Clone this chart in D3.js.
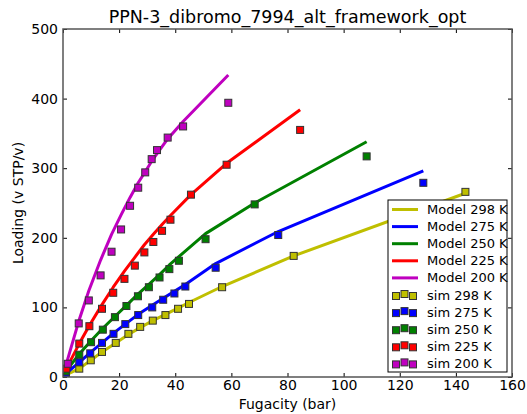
<!DOCTYPE html>
<html>
<head>
<meta charset="utf-8">
<script src="https://cdn.jsdelivr.net/npm/d3@7"></script>
<style>
  body { margin: 0; background: #fff; }
  text { font-family: "DejaVu Sans", sans-serif; fill: #000; }
</style>
</head>
<body>
<div id="chart"></div>
<script>
/** Data */
const temps = ["298", "275", "250", "225", "200"];
const colors = ["#bfbf00", "#0000ff", "#008000", "#ff0000", "#bf00bf"];

const fug298 = [1.0, 5.8, 9.9, 13.9, 18.8, 23.3, 27.5, 32.0, 36.5, 41.0, 44.9, 56.7, 82.2, 143.4];
const sim298 = [3, 12, 24, 36, 49, 62, 72, 81, 89, 98, 105, 129, 174, 266];
const model298 = [3, 12, 24, 36, 49, 61, 71, 81, 90, 99, 107, 130, 174, 264];

const fug275 = [1.0, 5.8, 9.7, 13.9, 18.0, 22.2, 26.8, 31.8, 35.7, 39.7, 43.6, 54.4, 76.7, 128.4];
const sim275 = [5, 21, 34, 49, 62, 76, 89, 100, 111, 120, 130, 157, 204, 279];
const model275 = [5, 21, 35, 49, 63, 76, 90, 103, 113, 123, 133, 163, 209, 296];

const fug250 = [1.0, 5.8, 10.0, 14.2, 18.5, 22.6, 26.7, 30.6, 34.4, 37.9, 41.3, 50.8, 68.3, 108.2];
const sim250 = [8, 32, 50, 68, 86, 102, 116, 129, 143, 155, 167, 198, 248, 317];
const model250 = [8, 33, 52, 70, 87, 103, 119, 133, 147, 161, 173, 206, 250, 338];

const fug225 = [1.2, 5.8, 9.4, 13.9, 17.9, 21.9, 25.6, 29.0, 32.2, 35.3, 38.3, 45.6, 58.3, 84.5];
const sim225 = [12, 48, 73, 98, 121, 141, 160, 179, 194, 210, 226, 262, 305, 355];
const model225 = [12, 48, 74, 104, 129, 152, 172, 190, 205, 219, 232, 262, 307, 384];

const fug200 = [1.7, 5.6, 9.2, 13.4, 17.3, 20.7, 23.9, 26.8, 29.3, 31.6, 33.5, 37.3, 42.8, 58.9];
const sim200 = [19, 77, 110, 146, 180, 212, 246, 272, 294, 313, 326, 344, 360, 394];
const model200 = [26, 80, 124, 168, 205, 233, 258, 279, 295, 310, 321, 342, 367, 434];

const xTicks = [0, 20, 40, 60, 80, 100, 120, 140, 160];
const yTicks = [0, 100, 200, 300, 400, 500];

/** Graph configs */
const W = 527, H = 414;
const margin = { top: 29, right: 15, bottom: 37, left: 63 };
const width = W - margin.left - margin.right;
const height = H - margin.top - margin.bottom;

const series = [
  { f: fug298, sim: sim298, model: model298 },
  { f: fug275, sim: sim275, model: model275 },
  { f: fug250, sim: sim250, model: model250 },
  { f: fug225, sim: sim225, model: model225 },
  { f: fug200, sim: sim200, model: model200 },
].map((s, i) => ({ ...s, t: temps[i], color: colors[i] }));

const svg = d3.select("#chart").append("svg")
  .attr("width", W).attr("height", H);

const g = svg.append("g")
  .attr("transform", `translate(${margin.left},${margin.top})`);

const x = d3.scaleLinear().domain([0, 160]).range([0, width]);
const y = d3.scaleLinear().domain([0, 500]).range([height, 0]);

g.append("clipPath").attr("id", "clip")
  .append("rect").attr("width", width).attr("height", height);

const plot = g.append("g").attr("clip-path", "url(#clip)");

/** Model lines, starting at the origin */
const line = d3.line().x((d) => x(d[0])).y((d) => y(d[1]));
series.forEach((s) => {
  plot.append("path")
    .datum([[0, 0]].concat(s.f.map((f, i) => [f, s.model[i]])))
    .attr("d", line)
    .attr("fill", "none")
    .attr("stroke", s.color)
    .attr("stroke-width", 3)
    .attr("stroke-linejoin", "round");
});

/** Sim squares */
const ms = 7;
series.forEach((s) => {
  plot.append("g").selectAll("rect")
    .data(s.f.map((f, i) => [f, s.sim[i]]))
    .enter().append("rect")
    .attr("x", (d) => x(d[0]) - ms / 2)
    .attr("y", (d) => y(d[1]) - ms / 2)
    .attr("width", ms).attr("height", ms)
    .attr("fill", s.color)
    .attr("stroke", "#333")
    .attr("stroke-width", 1);
});

/** Axes, ticks inside on all sides */
const tickStyle = (sel) => {
  sel.select(".domain").remove();
  sel.selectAll("line").attr("stroke", "#000");
  sel.selectAll("text").style("font-size", "14px").style("font-family", "DejaVu Sans");
};

g.append("g").attr("transform", `translate(0,${height})`)
  .call(d3.axisBottom(x).tickValues(xTicks).tickSizeInner(-4).tickSizeOuter(0).tickPadding(3))
  .call(tickStyle);
g.append("g")
  .call(d3.axisTop(x).tickValues(xTicks).tickSizeInner(-4).tickSizeOuter(0).tickFormat(""))
  .call(tickStyle);
g.append("g")
  .call(d3.axisLeft(y).tickValues(yTicks).tickSizeInner(-4).tickSizeOuter(0).tickPadding(5))
  .call(tickStyle);
g.append("g").attr("transform", `translate(${width},0)`)
  .call(d3.axisRight(y).tickValues(yTicks).tickSizeInner(-4).tickSizeOuter(0).tickFormat(""))
  .call(tickStyle);

g.append("rect")
  .attr("width", width).attr("height", height)
  .attr("fill", "none").attr("stroke", "#555").attr("stroke-width", 1.5);

/** Labels */
svg.append("text")
  .attr("x", margin.left + width / 2).attr("y", 23)
  .attr("text-anchor", "middle").style("font-size", "17.5px")
  .text("PPN-3_dibromo_7994_alt_framework_opt");
svg.append("text")
  .attr("x", margin.left + width / 2).attr("y", 409)
  .attr("text-anchor", "middle").style("font-size", "14px")
  .text("Fugacity (bar)");
svg.append("text")
  .attr("transform", `translate(23,${margin.top + height / 2}) rotate(-90)`)
  .attr("text-anchor", "middle").style("font-size", "14px")
  .text("Loading (v STP/v)");

/** Legend */
const lg = svg.append("g").attr("transform", "translate(388,200)");
lg.append("rect")
  .attr("width", 119).attr("height", 172)
  .attr("fill", "#fff").attr("stroke", "#000").attr("stroke-width", 1);

const rowY = (i) => 9.5 + i * 17.1;
series.forEach((s, i) => {
  lg.append("line")
    .attr("x1", 4).attr("x2", 30)
    .attr("y1", rowY(i)).attr("y2", rowY(i))
    .attr("stroke", s.color).attr("stroke-width", 3);
  lg.append("text")
    .attr("x", 39).attr("y", rowY(i) + 4.5)
    .style("font-size", "13px")
    .text(`Model ${s.t} K`);
});
series.forEach((s, i) => {
  const yy = rowY(i + 5);
  [[8, 1], [16.5, -1], [25, 1]].forEach(([cx, dy]) => {
    lg.append("rect")
      .attr("x", cx - ms / 2).attr("y", yy + dy - ms / 2)
      .attr("width", ms).attr("height", ms)
      .attr("fill", s.color).attr("stroke", "#333").attr("stroke-width", 1);
  });
  lg.append("text")
    .attr("x", 39).attr("y", yy + 4.5)
    .style("font-size", "13px")
    .text(`sim ${s.t} K`);
});
</script>
</body>
</html>
